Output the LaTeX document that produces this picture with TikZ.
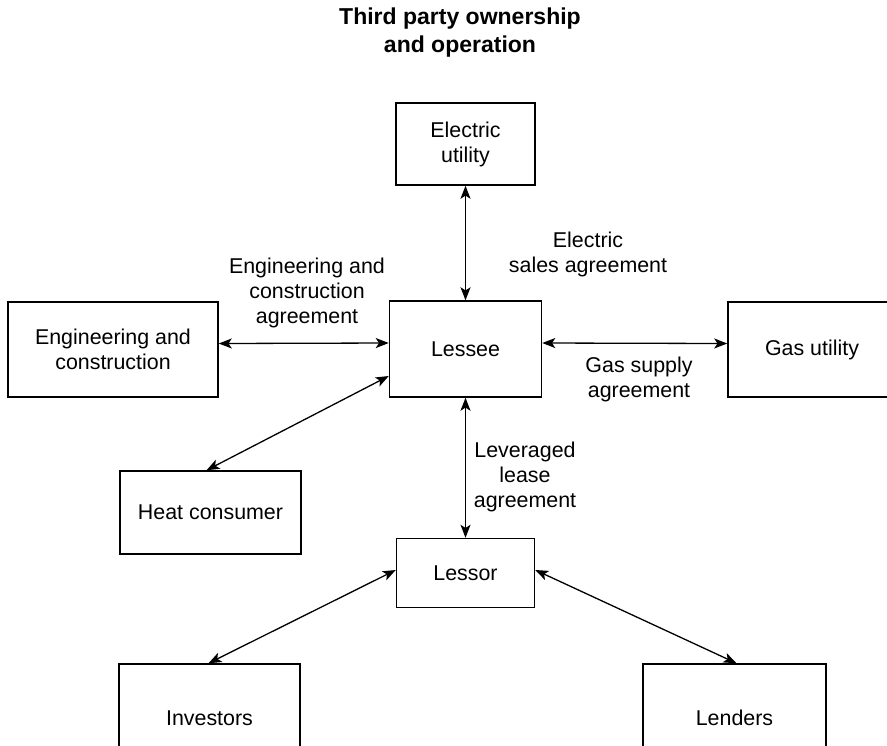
\documentclass[tikz,border=0pt]{standalone}
\usepackage{fontspec}
\setmainfont{Liberation Sans}
\usetikzlibrary{arrows.meta,calc}

\tikzset{
  box/.style={draw, line width=0.75pt, inner sep=0pt, align=center,
              font=\fontsize{10.7}{12.5}\selectfont},
  lbl/.style={inner sep=0pt, align=center, font=\fontsize{10.7}{12.5}\selectfont},
  tipend/.style={},
  link/.style={line width=0.65pt,
               {Stealth[length=6.5pt,width=5pt,inset=1.6pt]}-{Stealth[length=6.5pt,width=5pt,inset=1.6pt]}}
}

\begin{document}
\begin{tikzpicture}[x=0.5pt,y=-0.5pt]
  \useasboundingbox (0,0) rectangle (887,745);
  \clip (0,0) rectangle (887,745);

  % title
  \node[lbl, font=\fontsize{11.5}{14}\selectfont\bfseries] (title) at (460,33)
    {Third party ownership\\and operation};

  % parties
  \node[box, minimum width=139*0.5pt, minimum height=82*0.5pt] (eu) at (465.5,144) {Electric\\utility};
  \node[box, minimum width=152*0.5pt, minimum height=96*0.5pt] (lessee) at (465.5,349) {Lessee};
  \node[box, minimum width=210*0.5pt, minimum height=95*0.5pt] (ec) at (113,349.5) {Engineering and\\construction};
  \node[box, minimum width=168*0.5pt, minimum height=95*0.5pt] (gas) at (812,349.5) {Gas utility};
  \node[box, minimum width=181*0.5pt, minimum height=83*0.5pt] (heat) at (210.5,512.5) {Heat consumer};
  \node[box, minimum width=138*0.5pt, minimum height=69*0.5pt] (lessor) at (465.5,573) {Lessor};
  \node[box, minimum width=181*0.5pt, minimum height=108*0.5pt] (inv) at (209.5,718) {Investors};
  \node[box, minimum width=183*0.5pt, minimum height=108*0.5pt] (lend) at (734.5,718) {Lenders};

  % agreements
  \draw[link] (eu.south) -- (lessee.north);
  \draw[link] ($(ec.east)+(0,-6)$) -- ($(lessee.west)+(0,-6)$);
  \draw[link] ($(lessee.east)+(0,-6)$) -- ($(gas.west)+(0,-6)$);
  \draw[link] ($(heat.north)+(-4,0)$) -- ($(lessee.west)+(0,27)$);
  \draw[link] (lessee.south) -- (lessor.north);
  \draw[link] ($(lessor.west)+(0,-3)$) -- ($(inv.north)+(-1,0)$);
  \draw[link] ($(lessor.east)+(0,-3)$) -- ($(lend.north)+(2,0)$);

  % agreement labels
  \node[lbl] (lblsales) at (588,254) {Electric\\sales agreement};
  \node[lbl] (lblec) at (307,293) {Engineering and\\construction\\agreement};
  \node[lbl] (lblgas) at (639,379) {Gas supply\\agreement};
  \node[lbl] (lbllease) at (525,477) {Leveraged\\lease\\agreement};
\end{tikzpicture}
\end{document}
